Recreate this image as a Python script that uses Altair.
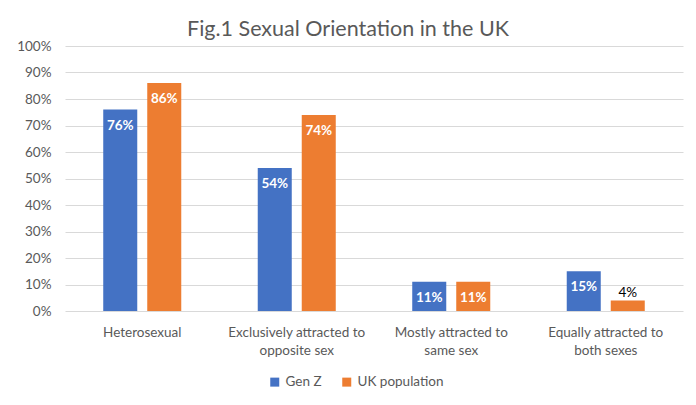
import altair as alt
import pandas as pd

categories = ["Heterosexual", "Exclusively attracted to\nopposite sex",
              "Mostly attracted to\nsame sex", "Equally attracted to\nboth sexes"]
series = ["Gen Z", "UK population"]
gen_z = [76, 54, 11, 15]
uk_pop = [86, 74, 11, 4]
colors = ["#4472C4", "#ED7D31"]

rows = []
for c, g, u in zip(categories, gen_z, uk_pop):
    rows.append({"category": c, "series": series[0], "value": g / 100})
    rows.append({"category": c, "series": series[1], "value": u / 100})
df = pd.DataFrame(rows)
df["label"] = (df["value"] * 100).round().astype(int).astype(str) + "%"

FONT = "Lato"
GRAY = "#595959"

x = alt.X("category:N", sort=categories, title=None,
          scale=alt.Scale(paddingInner=0.495, paddingOuter=0.2475),
          axis=alt.Axis(labelAngle=0, labelExpr="split(datum.label, '\\n')",
                        labelFontSize=13.5, labelColor=GRAY, labelFont=FONT,
                        labelPadding=14, labelLineHeight=18, ticks=False,
                        domain=False, grid=False))
xo = alt.XOffset("series:N", sort=series,
                 scale=alt.Scale(paddingInner=0.227, paddingOuter=0))
y = alt.Y("value:Q", title=None,
          scale=alt.Scale(domain=[0, 1]),
          axis=alt.Axis(format=".0%", values=[i / 10 for i in range(11)],
                        labelFontSize=13.5, labelColor=GRAY, labelFont=FONT,
                        labelPadding=14, ticks=False, domain=False,
                        gridColor="#D9D9D9", gridWidth=1))

base = alt.Chart(df)

bars = base.mark_bar().encode(
    x=x, xOffset=xo, y=y,
    color=alt.Color("series:N", sort=series,
                    scale=alt.Scale(domain=series, range=colors),
                    legend=alt.Legend(title=None, orient="none", direction="horizontal",
                                      legendX=203, legendY=329, symbolType="square",
                                      symbolSize=81, symbolStrokeWidth=0,
                                      labelFontSize=13.5, labelColor=GRAY, labelFont=FONT,
                                      labelOffset=4, columnPadding=18)),
)

inside = base.transform_filter("datum.value >= 0.1").mark_text(
    color="white", fontSize=13.5, fontWeight="bold", font=FONT, baseline="middle", dy=16
).encode(x=x, xOffset=xo, y=y, text="label:N")

above = base.transform_filter("datum.value < 0.1").mark_text(
    color="black", fontSize=13.5, font=FONT, baseline="middle", dy=-7
).encode(x=x, xOffset=xo, y=y, text="label:N")

chart = alt.layer(bars, inside, above).properties(
    width=618, height=265,
    title=alt.TitleParams("Fig.1 Sexual Orientation in the UK", fontSize=21.5,
                          font=FONT, fontWeight="normal", color=GRAY,
                          anchor="middle", dx=-26, dy=4, offset=3),
    autosize=alt.AutoSizeParams(type="none"),
    padding={"left": 57, "top": 38, "right": 5, "bottom": 86},
).configure_view(stroke=None)

chart.save("out.html", embed_options={"renderer": "svg", "actions": False})
